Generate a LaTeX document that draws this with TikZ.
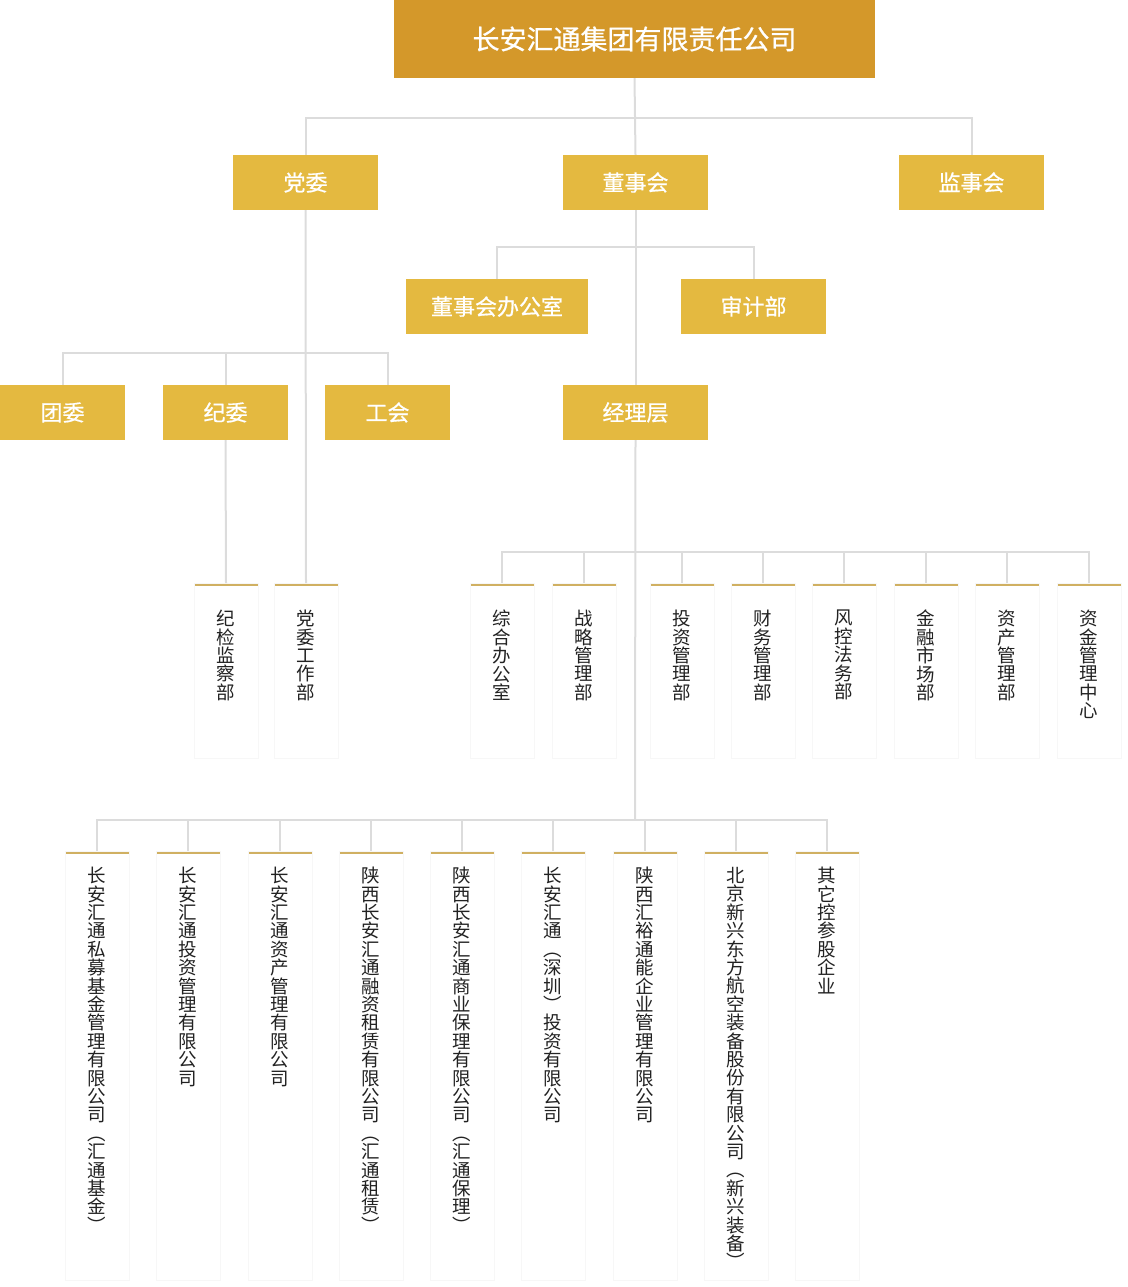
\documentclass[tikz,border=0pt]{standalone}
\usepackage{fontspec}
\usepackage{tikz}
\usepackage{xcolor}
\usetikzlibrary{shadows}
\setmainfont{Noto Sans CJK SC}
\newfontfamily\boxfont{Noto Sans CJK SC}[FakeBold=0.7]
\definecolor{gold-dark}{HTML}{D4982A}
\definecolor{gold}{HTML}{E4B940}
\definecolor{gold-line}{HTML}{D0B062}
\definecolor{link-gray}{HTML}{DCDCDC}
\definecolor{ink}{HTML}{222222}
% stack the characters of a name one under the other
\def\vstackloop#1{\ifx\relax#1\else\hbox to 1em{\hss#1\hss}\expandafter\vstackloop\fi}
\newcommand\vstack[1]{\vbox{\baselineskip=18.4pt\lineskiplimit=-20pt\vstackloop#1\relax}}
\tikzset{
    top-box/.style = {fill=gold-dark, text=white, inner sep=0pt, minimum width=481pt, minimum height=78pt, font=\boxfont\fontsize{27}{30}\selectfont},
    gold-box/.style = {fill=gold, text=white, inner sep=0pt, minimum width=145pt, minimum height=55pt, font=\boxfont\fontsize{22}{24}\selectfont},
    dept-box/.style = {fill=white, draw=black!3, inner sep=0pt, minimum width=64pt, anchor=north,
        drop shadow={shadow xshift=0.6pt, shadow yshift=-1pt, opacity=0.10},
        path picture={\fill[gold-line] (path picture bounding box.north west) rectangle ([yshift=-3pt]path picture bounding box.north east);}},
    dept-text/.style = {inner sep=0pt, anchor=north, text=ink, font=\fontsize{18.5}{18.4}\selectfont},
    link/.style = {draw=link-gray, line width=2pt},
}

\begin{document}
\begin{tikzpicture}[x=1pt, y=-1pt]
\useasboundingbox (0,0) rectangle (1127,1287);
% top levels
\node[top-box] (root) at (634.5,39) {长安汇通集团有限责任公司};
\node[gold-box] (dangwei) at (305.5,182.5) {党委};
\node[gold-box] (dongshi) at (635.5,182.5) {董事会};
\node[gold-box] (jianshi) at (971.5,182.5) {监事会};
\node[gold-box, minimum width=182pt] (dongban) at (497,306.5) {董事会办公室};
\node[gold-box] (shenji) at (753.5,306.5) {审计部};
\node[gold-box, minimum width=125pt] (tuanwei) at (62.5,412.5) {团委};
\node[gold-box, minimum width=125pt] (jiwei) at (225.5,412.5) {纪委};
\node[gold-box, minimum width=125pt] (gonghui) at (387.5,412.5) {工会};
\node[gold-box] (jingli) at (635.5,412.5) {经理层};

% departments
\foreach \x/\n/\t in {226/jijian/纪检监察部, 306/dangwork/党委工作部, 502/zonghe/综合办公室,
    584/zhanlue/战略管理部, 682/touzi/投资管理部, 763/caiwu/财务管理部, 844/fengkong/风控法务部,
    926/jinrong/金融市场部, 1007/zichan/资产管理部, 1089/zijin/资金管理中心} {
    \node[dept-box, minimum height=175pt] (\n) at (\x,583) {};
    \node[dept-text, yshift=-27pt] (\n-text) at (\n.north) {\expandafter\vstack\expandafter{\t}};
}

% companies
\foreach \x/\n/\t in {97/simu/长安汇通私募基金管理有限公司︵汇通基金︶, 188/tzgl/长安汇通投资管理有限公司,
    280/zcgl/长安汇通资产管理有限公司, 371/zulin/陕西长安汇通融资租赁有限公司︵汇通租赁︶,
    462/baoli/陕西长安汇通商业保理有限公司︵汇通保理︶, 553/shenzhen/长安汇通︵深圳︶投资有限公司,
    645/huiyu/陕西汇裕通能企业管理有限公司, 736/xinxing/北京新兴东方航空装备股份有限公司︵新兴装备︶,
    827/qita/其它控参股企业} {
    \node[dept-box, minimum height=429pt] (\n) at (\x,851) {};
    \node[dept-text, yshift=-16pt] (\n-text) at (\n.north) {\expandafter\vstack\expandafter{\t}};
}

% connectors
\coordinate (bus-top) at (635,118);
\coordinate (bus-dong) at (635,247);
\coordinate (bus-dang) at (305.5,353);
\coordinate (bus-mid) at (635,552);
\coordinate (bus-low) at (635,820);
\draw[link] (root.south) -- (dongshi.north);
\draw[link] (bus-top) -| (dangwei.north);
\draw[link] (bus-top) -| (jianshi.north);
\draw[link] (dongshi.south) -- (jingli.north);
\draw[link] (bus-dong) -| (dongban.north);
\draw[link] (bus-dong) -| (shenji.north);
\draw[link] (dangwei.south) -- (dangwork.north);
\draw[link] (bus-dang) -| (tuanwei.north);
\draw[link] (bus-dang) -| (jiwei.north);
\draw[link] (bus-dang) -| (gonghui.north);
\draw[link] (jiwei.south) -- (jijian.north);
\draw[link] (jingli.south) -- (bus-low);
\foreach \n in {zonghe, zhanlue, touzi, caiwu, fengkong, jinrong, zichan, zijin}
    \draw[link] (bus-mid) -| (\n.north);
\foreach \n in {simu, tzgl, zcgl, zulin, baoli, shenzhen, huiyu, xinxing, qita}
    \draw[link] (bus-low) -| (\n.north);
\end{tikzpicture}
\end{document}
